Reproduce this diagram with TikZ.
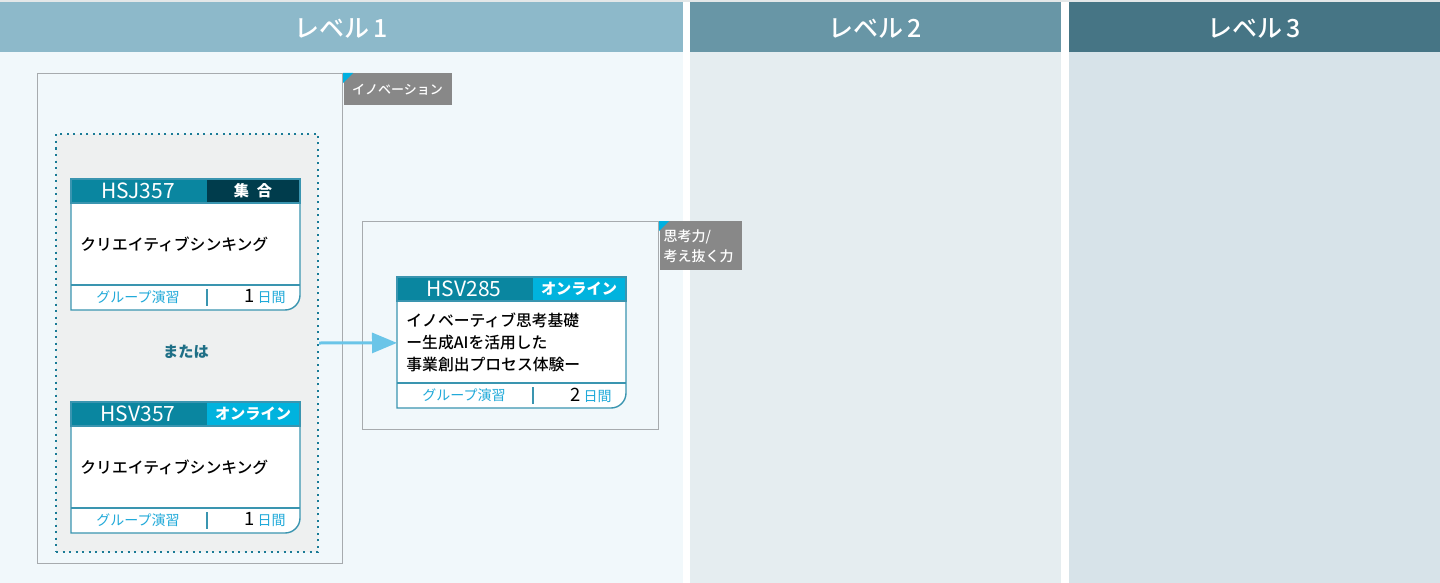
\documentclass[tikz,border=0pt]{standalone}
\usepackage{fontspec}
\setmainfont{Noto Sans CJK JP}
\newfontfamily\medfont{Noto Sans CJK JP Medium}
\usepackage{tikz}
\usetikzlibrary{positioning}
\usetikzlibrary{arrows.meta}
\usetikzlibrary{calc}

\definecolor{topstrip}{HTML}{E3E7E8}
\definecolor{hdone}{HTML}{8DB9CA}
\definecolor{hdtwo}{HTML}{6896A6}
\definecolor{hdthree}{HTML}{467585}
\definecolor{bdone}{HTML}{F1F8FB}
\definecolor{bdtwo}{HTML}{E5EDF0}
\definecolor{bdthree}{HTML}{D7E3E9}
\definecolor{framegrey}{HTML}{A7ABAE}
\definecolor{taggrey}{HTML}{888888}
\definecolor{tagcyan}{HTML}{00B0E0}
\definecolor{dotteal}{HTML}{1A7B96}
\definecolor{dotfill}{HTML}{EEF0F0}
\definecolor{cardteal}{HTML}{0A86A0}
\definecolor{cardline}{HTML}{3A95B0}
\definecolor{typedark}{HTML}{003C4C}
\definecolor{typecyan}{HTML}{00B3DE}
\definecolor{footcyan}{HTML}{1FA9D9}
\definecolor{ortext}{HTML}{1E6F86}
\definecolor{flowblue}{HTML}{6AC5E8}

\begin{document}
\begin{tikzpicture}[x=0.5pt, y=-0.5pt,
  levelhead/.style={text=white, font=\medfont\fontsize{12.5pt}{14pt}\selectfont},
  frame/.style={draw=framegrey, line width=0.6pt, fill=bdone, inner sep=0pt, anchor=north west},
  tagbox/.style={fill=taggrey, text=white, inner sep=0pt, anchor=north west, font=\medfont\fontsize{6.5pt}{8.6pt}\selectfont},
  orbox/.style={draw=dotteal, fill=dotfill, line width=1pt, dash pattern=on 1pt off 2.25pt, inner sep=0pt, anchor=north west},
  cardedge/.style={draw=cardline, line width=0.7pt},
  codetext/.style={text=white, font=\fontsize{10.5pt}{12pt}\selectfont},
  typetext/.style={text=white, font=\bfseries\fontsize{7.6pt}{9pt}\selectfont},
  titletext/.style={align=left, inner sep=0pt, anchor=west, font=\medfont\fontsize{7.9pt}{11pt}\selectfont},
  foottext/.style={text=footcyan, font=\fontsize{7pt}{8pt}\selectfont},
  flow/.style={draw=flowblue, line width=1.5pt, -{Triangle[length=12.5pt, width=10pt]}}]

 \useasboundingbox (0,0) rectangle (1440,583);
 \fill[topstrip] (0,0) rectangle (1440,2);

 %level columns
 \foreach \x/\w/\hd/\bd/\name in {0/683/hdone/bdone/1, 690/371/hdtwo/bdtwo/2, 1069/371/hdthree/bdthree/3} {
         \fill[\bd] (\x,52) rectangle (\x+\w,583);
         \fill[\hd] (\x,2) rectangle (\x+\w,52);
         \node[levelhead] (level\name) at (\x+\w/2,28) {レベル\,\name};
 }

 %group frames
 \node[frame, minimum width=152.5pt, minimum height=245pt] (innoframe) at (37,73) {};
 \node[tagbox, minimum width=54pt, minimum height=16pt] (innotag) at (innoframe.north east) {イノベーション};
 \fill[tagcyan] (innotag.north west) -- ++(10,0) -- ++(-10,10) -- cycle;

 \node[frame, minimum width=148pt, minimum height=104pt] (thinkframe) at (362,221) {};
 \node[tagbox, minimum width=41pt, minimum height=24.5pt, align=left, text width=37pt,
       font=\medfont\fontsize{7pt}{10pt}\selectfont] (thinktag) at (thinkframe.north east) {思考力/\\考え抜く力};
 \fill[tagcyan] (thinktag.north west) -- ++(10,0) -- ++(-10,10) -- cycle;

 %either course
 \node[orbox, minimum width=131pt, minimum height=209pt] (choice) at (55,133) {};
 \node[text=ortext, font=\bfseries\fontsize{7.6pt}{9pt}\selectfont] (either) at (186,352) {または};

 %course cards
 \foreach \name/\cx/\cy/\code/\tcol/\type/\days/\title in {
         hsj/71/179/HSJ357/typedark/{集\hspace{4pt}合}/1/クリエイティブシンキング,
         hsvone/71/402/HSV357/typecyan/オンライン/1/クリエイティブシンキング,
         hsvtwo/397/277/HSV285/typecyan/オンライン/2/{イノベーティブ思考基礎\\ー生成AIを活用した\\事業創出プロセス体験ー}} {
         \draw[cardedge, fill=white] (\cx,\cy) -- (\cx+229,\cy) -- (\cx+229,\cy+116)
               .. controls (\cx+229,\cy+124.3) and (\cx+222.3,\cy+131) .. (\cx+214,\cy+131) -- (\cx,\cy+131) -- cycle;
         \fill[cardteal] (\cx,\cy) rectangle (\cx+136,\cy+24);
         \fill[\tcol] (\cx+136,\cy) rectangle (\cx+229,\cy+24);
         \draw[cardedge] (\cx,\cy) rectangle (\cx+229,\cy+24);
         \draw[cardedge] (\cx,\cy+106) -- (\cx+229,\cy+106);
         \draw[cardedge] (\cx+136,\cy+110) -- (\cx+136,\cy+127);
         \node[inner sep=0pt, minimum width=114.5pt, minimum height=65.5pt, anchor=north west] (\name) at (\cx,\cy) {};
         \node[codetext] at (\cx+67,\cy+12) {\code};
         \node[typetext] at (\cx+182,\cy+12) {\type};
         \node[titletext] at (\cx+9,\cy+65) {\title};
         \node[foottext] at (\cx+67,\cy+118) {グループ演習};
         \node[anchor=east, inner sep=0pt] at (\cx+215,\cy+118) {{\fontsize{9.2pt}{9pt}\selectfont\days}\,{\color{footcyan}\fontsize{7pt}{8pt}\selectfont 日間}};
 }

 \draw[flow] (choice.east) -- (hsvtwo.west);

\end{tikzpicture}
\end{document}
